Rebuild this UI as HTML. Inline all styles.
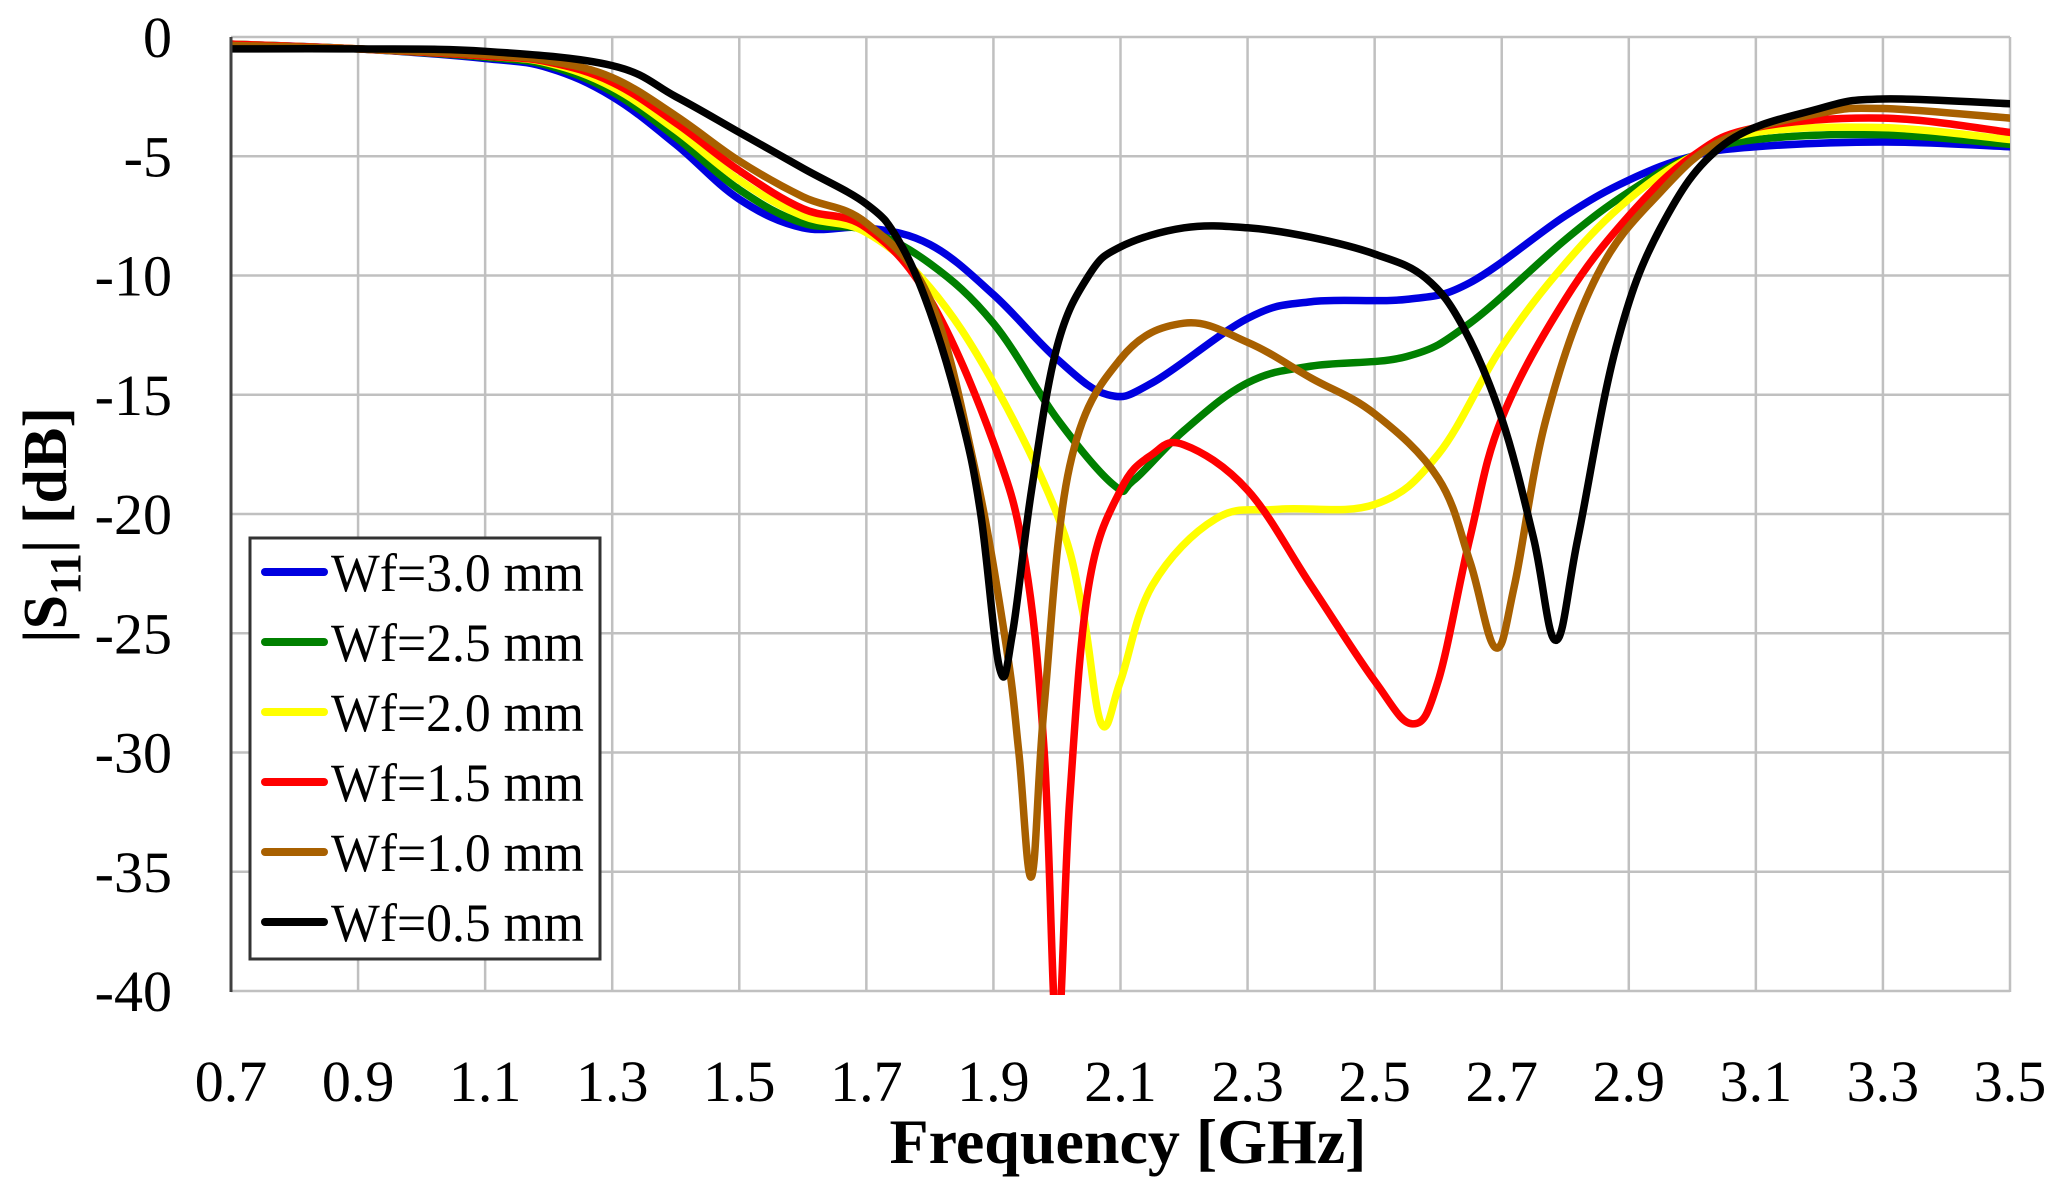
<!DOCTYPE html>
<html><head><meta charset="utf-8"><style>
html,body{margin:0;padding:0;background:#fff;}
svg{display:block;}
text{font-family:"Liberation Serif",serif;fill:#000;}
</style></head><body>
<svg id="s" width="2062" height="1197" viewBox="0 0 2062 1197" xmlns="http://www.w3.org/2000/svg">
<defs><clipPath id="c"><rect x="231" y="30" width="1779" height="965"/></clipPath></defs>
<g id="grid"></g>
<g id="curves" clip-path="url(#c)"></g>
<line x1="231" y1="37" x2="231" y2="992" stroke="#404040" stroke-width="3"/>
<g id="labels"></g>
<text x="1128" y="1163" font-size="64" font-weight="bold" text-anchor="middle">Frequency [GHz]</text>
<g transform="translate(66,525) rotate(-90)">
<text x="0" y="0" font-size="62" font-weight="bold" text-anchor="middle">|S<tspan font-size="44" dy="14">11</tspan><tspan dy="-14">| [dB]</tspan></text>
</g>
<rect x="250" y="538" width="350" height="421" fill="#fff" stroke="#333" stroke-width="3"/>
<g id="legend"></g>
</svg>
<script>
const X=g=>231+(g-0.7)/2.8*1779, Y=d=>37-d*(954/40);
const ns="http://www.w3.org/2000/svg";
function el(p,t,a,txt){const e=document.createElementNS(ns,t);for(const k in a)e.setAttribute(k,a[k]);if(txt!=null)e.textContent=txt;document.getElementById(p).appendChild(e);return e;}
for(let i=0;i<=14;i++){const g=0.7+i*0.2,x=X(g);el("grid","line",{x1:x,y1:37,x2:x,y2:992,stroke:"#c0c0c0","stroke-width":2.5});
el("labels","text",{x:x,y:1101,"font-size":58,"text-anchor":"middle"},g.toFixed(1));}
for(let d=0;d>=-40;d-=5){const y=Y(d);el("grid","line",{x1:231,y1:y,x2:2010,y2:y,stroke:"#c0c0c0","stroke-width":2.5});
el("labels","text",{x:172,y:y+20,"font-size":58,"text-anchor":"end"},String(d));}
const S=[
["#0000e0","Wf=3.0 mm",[[0.7,-0.3],[0.9,-0.5],[1.1,-0.9],[1.2,-1.3],[1.3,-2.5],[1.4,-4.5],[1.5,-6.8],[1.6,-8.0],[1.7,-8.0],[1.8,-8.7],[1.9,-10.8],[2.0,-13.5],[2.08,-15.0],[2.15,-14.5],[2.3,-11.8],[2.4,-11.1],[2.55,-11.0],[2.65,-10.3],[2.8,-7.5],[2.9,-6.0],[3.0,-5.0],[3.1,-4.6],[3.3,-4.4],[3.5,-4.6]]],
["#008000","Wf=2.5 mm",[[0.7,-0.3],[0.9,-0.5],[1.1,-0.85],[1.2,-1.2],[1.3,-2.3],[1.4,-4.2],[1.5,-6.4],[1.6,-7.8],[1.7,-8.1],[1.8,-9.5],[1.9,-12],[2.0,-16],[2.09,-18.8],[2.12,-18.6],[2.2,-16.5],[2.3,-14.5],[2.4,-13.8],[2.55,-13.4],[2.65,-12],[2.8,-8.5],[2.9,-6.5],[3.0,-5.0],[3.1,-4.3],[3.3,-4.1],[3.5,-4.5]]],
["#ffff00","Wf=2.0 mm",[[0.7,-0.3],[0.9,-0.5],[1.1,-0.8],[1.2,-1.1],[1.3,-2.1],[1.4,-3.9],[1.5,-6.0],[1.6,-7.5],[1.7,-8.2],[1.8,-10.5],[1.9,-14.5],[2.0,-20],[2.04,-24],[2.07,-28.8],[2.1,-27],[2.15,-23],[2.25,-20.2],[2.35,-19.8],[2.5,-19.6],[2.6,-17.5],[2.7,-13],[2.8,-9.5],[2.9,-6.8],[3.0,-5.0],[3.1,-4.0],[3.3,-3.8],[3.5,-4.3]]],
["#ff0000","Wf=1.5 mm",[[0.7,-0.3],[0.9,-0.5],[1.1,-0.8],[1.2,-1.05],[1.3,-1.9],[1.4,-3.6],[1.5,-5.6],[1.6,-7.2],[1.7,-8.0],[1.8,-11],[1.9,-17],[1.95,-22],[1.98,-30],[2.0,-42],[2.02,-32],[2.05,-23],[2.1,-19],[2.15,-17.5],[2.2,-17.1],[2.3,-19],[2.4,-23],[2.5,-27],[2.56,-28.8],[2.6,-27],[2.65,-21],[2.7,-16],[2.8,-11],[2.9,-7.5],[3.0,-5],[3.1,-3.8],[3.3,-3.4],[3.5,-4.0]]],
["#a86000","Wf=1.0 mm",[[0.7,-0.35],[0.9,-0.5],[1.1,-0.75],[1.2,-1.0],[1.3,-1.7],[1.4,-3.3],[1.5,-5.2],[1.6,-6.7],[1.7,-7.8],[1.8,-11],[1.87,-18],[1.92,-25.5],[1.94,-30],[1.96,-35.2],[1.98,-28],[2.02,-18],[2.1,-13.5],[2.2,-12.0],[2.3,-12.8],[2.4,-14.3],[2.5,-15.8],[2.6,-18.5],[2.65,-22],[2.69,-25.6],[2.72,-23],[2.77,-16],[2.85,-10],[2.95,-6.5],[3.05,-4.3],[3.2,-3.2],[3.3,-3.0],[3.5,-3.4]]],
["#000000","Wf=0.5 mm",[[0.7,-0.5],[0.9,-0.5],[1.1,-0.6],[1.3,-1.2],[1.4,-2.5],[1.5,-4.0],[1.6,-5.5],[1.7,-7.0],[1.75,-8.5],[1.8,-11.5],[1.85,-16],[1.88,-20],[1.91,-26.5],[1.93,-25],[1.96,-19],[2.0,-13],[2.05,-10],[2.1,-8.8],[2.2,-8.0],[2.3,-8.0],[2.4,-8.4],[2.5,-9.1],[2.58,-10.1],[2.64,-12.2],[2.7,-16],[2.75,-21],[2.785,-25.3],[2.82,-21],[2.88,-13],[2.95,-8],[3.05,-4.5],[3.2,-3.0],[3.3,-2.6],[3.5,-2.8]]]
];
function path(pts){const p=pts.map(q=>[X(q[0]),Y(q[1])]);let d="M"+p[0][0]+","+p[0][1];
for(let i=0;i<p.length-1;i++){const p0=p[Math.max(0,i-1)],p1=p[i],p2=p[i+1],p3=p[Math.min(p.length-1,i+2)];
const t=0.18;const c1=[p1[0]+(p2[0]-p0[0])*t,p1[1]+(p2[1]-p0[1])*t],c2=[p2[0]-(p3[0]-p1[0])*t,p2[1]-(p3[1]-p1[1])*t];
d+=" C"+c1.join(",")+" "+c2.join(",")+" "+p2.join(",");}return d;}
S.forEach((s,i)=>{el("curves","path",{d:path(s[2]),fill:"none",stroke:s[0],"stroke-width":7.5,"stroke-linejoin":"round","stroke-linecap":"round"});
const y=572+i*70;el("legend","line",{x1:265,y1:y,x2:324,y2:y,stroke:s[0],"stroke-width":8,"stroke-linecap":"round"});
el("legend","text",{x:331,y:y+19,"font-size":54,textLength:253,lengthAdjust:"spacingAndGlyphs"},s[1]);});
</script>
</body></html>
